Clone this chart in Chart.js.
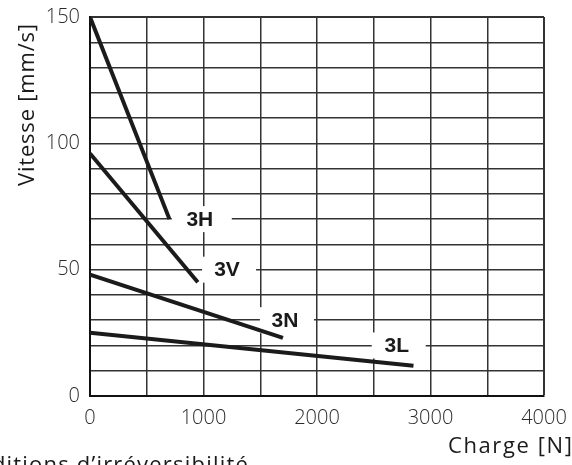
<!DOCTYPE html>
<html>
<head>
<meta charset="utf-8">
<script src="https://cdn.jsdelivr.net/npm/chart.js@4.4.1/dist/chart.umd.min.js"></script>
<style>
  html, body { margin: 0; padding: 0; background: #fff; }
  #wrap { width: 572px; height: 465px; position: relative; }
</style>
</head>
<body>
<div id="wrap"><canvas id="speedChart" width="572" height="465"></canvas></div>
<script>
"use strict";

// curves: load [N] -> speed [mm/s]
const load3H = [0, 700];
const speed3H = [150, 70];
const load3V = [0, 950];
const speed3V = [96, 45];
const load3N = [0, 1700];
const speed3N = [48, 23];
const load3L = [0, 2850];
const speed3L = [25, 12];

// series tags and where they sit (data coords)
const tagNames = ["3H", "3V", "3N", "3L"];
const tagLoads = [985, 1225, 1735, 2720];
const tagSpeeds = [70, 50, 30, 20];

const xTickLabels = ["0", "1000", "2000", "3000", "4000"];
const yTickLabels = ["0", "50", "100", "150"];

const LINE_COLOR = "#1b1b1b";
const GRID_COLOR = "#333333";
const FONT_LIGHT = "'Open Sans', 'DejaVu Sans', sans-serif";

function toPoints(xs, ys) {
    return xs.map((x, i) => ({ x: x, y: ys[i] }));
}

function makeSet(label, xs, ys) {
    return {
        label: label,
        data: toPoints(xs, ys),
        showLine: true,
        borderColor: LINE_COLOR,
        borderWidth: 4,
        pointRadius: 0,
        borderCapStyle: "butt",
        tension: 0
    };
}

// white boxes + bold tags, drawn over the grid but under the curves
const tagPlugin = {
    id: "tags",
    beforeDatasetsDraw(chart) {
        const ctx = chart.ctx;
        const xs = chart.scales.x, ys = chart.scales.y;
        ctx.save();
        ctx.font = "bold 21px 'Liberation Sans', Arial, sans-serif";
        ctx.textAlign = "center";
        ctx.textBaseline = "middle";
        tagNames.forEach((name, i) => {
            const px = xs.getPixelForValue(tagLoads[i]);
            const py = ys.getPixelForValue(tagSpeeds[i]);
            ctx.fillStyle = "#fff";
            const w = (i === 0) ? 60 : 54;
            ctx.fillRect(px - w / 2, py - 13, w, 26);
            ctx.fillStyle = "#1a1a1a";
            ctx.fillText(name, px - 2, py + 1);
        });
        ctx.restore();
    }
};

// axis titles and the cropped caption
const textPlugin = {
    id: "texts",
    afterDraw(chart) {
        const ctx = chart.ctx;
        ctx.save();
        ctx.fillStyle = "#1a1a1a";
        ctx.letterSpacing = "0.8px";

        // y title, rotated
        ctx.font = "22px " + FONT_LIGHT;
        ctx.translate(34, 186);
        ctx.rotate(-Math.PI / 2);
        ctx.textAlign = "left";
        ctx.textBaseline = "alphabetic";
        ctx.fillText("Vitesse [mm/s]", 0, 0);
        ctx.setTransform(1, 0, 0, 1, 0, 0);

        // x title (runs off the right edge)
        ctx.letterSpacing = "1.6px";
        ctx.fillText("Charge [N]", 448, 453);

        // caption below, cut by the edges
        ctx.letterSpacing = "1.2px";
        ctx.textAlign = "right";
        ctx.fillText("Conditions d\u2019irréversibilité", 249, 472);
        ctx.restore();
    }
};

function tickValue(ctx) {
    return ctx.tick ? ctx.tick.value : null;
}

const chart = new Chart(document.getElementById("speedChart"), {
    type: "scatter",
    data: {
        datasets: [
            makeSet("3H", load3H, speed3H),
            makeSet("3V", load3V, speed3V),
            makeSet("3N", load3N, speed3N),
            makeSet("3L", load3L, speed3L)
        ]
    },
    options: {
        responsive: false,
        animation: false,
        layout: { padding: { top: 17, right: 28, left: 0, bottom: 0 } },
        plugins: {
            legend: { display: false },
            tooltip: { enabled: false }
        },
        scales: {
            x: {
                type: "linear",
                min: 0,
                max: 4000,
                afterFit(scale) {
                    scale.height = 69;
                    scale.paddingRight = 0;
                    scale.paddingLeft = 0;
                },
                border: { display: true, color: "#111", width: 2 },
                grid: {
                    drawTicks: false,
                    color: GRID_COLOR,
                    lineWidth: (c) => (tickValue(c) === 4000 ? 2 : 1.5)
                },
                ticks: {
                    stepSize: 500,
                    padding: 10,
                    maxRotation: 0,
                    autoSkip: false,
                    color: "#2a2a2a",
                    font: { family: FONT_LIGHT, size: 20, weight: "300" },
                    callback: (v) => xTickLabels.includes(String(v)) ? String(v) : ""
                }
            },
            y: {
                type: "linear",
                min: 0,
                max: 150,
                afterFit(scale) {
                    scale.width = 90;
                    scale.paddingTop = 0;
                    scale.paddingBottom = 0;
                },
                border: { display: true, color: "#111", width: 2 },
                grid: {
                    drawTicks: false,
                    color: GRID_COLOR,
                    lineWidth: (c) => (tickValue(c) === 150 ? 2 : 1.5)
                },
                ticks: {
                    stepSize: 10,
                    padding: 10,
                    autoSkip: false,
                    color: "#2a2a2a",
                    font: { family: FONT_LIGHT, size: 20, weight: "300" },
                    callback: (v) => yTickLabels.includes(String(v)) ? String(v) : ""
                }
            }
        }
    },
    plugins: [tagPlugin, textPlugin]
});
</script>
</body>
</html>
